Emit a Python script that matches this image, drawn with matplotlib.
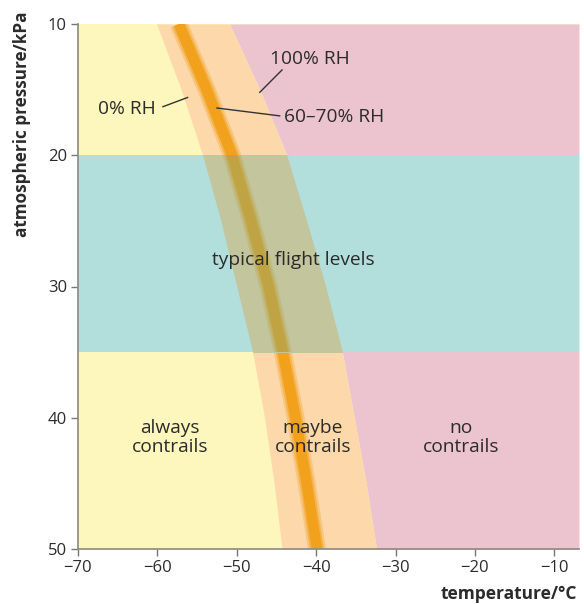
import matplotlib
matplotlib.use("Agg")
import matplotlib.pyplot as plt
import numpy as np

plt.rcParams['font.family'] = ['Open Sans', 'DejaVu Sans']

# pressure levels (kPa) and temperatures (deg C) of the three humidity curves
pressure = [10, 15, 20, 25, 30, 35, 40, 45, 50]
t_rh0 = [-60.1, -57.0, -54.3, -52.0, -50.0, -48.0, -46.5, -45.3, -44.3]
t_rh65 = [-57.3, -53.8, -50.6, -48.2, -46.0, -44.2, -42.6, -41.2, -39.9]
t_rh100 = [-50.9, -47.1, -43.7, -41.2, -38.8, -36.7, -35.2, -33.7, -32.4]

flight_levels = (20, 35)
x_ticks = [-70, -60, -50, -40, -30, -20, -10]
y_ticks = [10, 20, 30, 40, 50]

# colours
c_yellow = '#fdf6bd'
c_pink = '#ecc4cf'
c_teal = '#b2dedb'
c_band = '#fcd8ab'
c_line = '#f1a11c'
c_band_teal = '#c3c59d'
c_line_teal = '#c0a443'
c_text = '#2b2b2b'

fig = plt.figure(figsize=(5.84, 6.04), dpi=100)
ax = fig.add_axes([78 / 584, 55 / 604, 501 / 584, 525 / 604])
ax.set_facecolor(c_yellow)
xmin, xmax = -70, -6.9

# line widths for the soft-edged 60-70% RH line
widths = [(13, 0.3), (10, 0.5), (7.5, 1.0)]

# no-contrail region and humidity band
ax.fill_betweenx(pressure, t_rh100, xmax, color=c_pink, lw=0, zorder=1)
ax.fill_betweenx(pressure, t_rh0, t_rh100, color=c_band, lw=0, zorder=1)
for lw, a in widths:
    ax.plot(t_rh65, pressure, color=c_line, lw=lw, alpha=a, zorder=2,
            solid_capstyle='butt')

# flight level band (covers everything, band shows through darker)
teal = ax.axhspan(*flight_levels, color=c_teal, lw=0, zorder=3)
clipped = [ax.fill_betweenx(pressure, t_rh0, t_rh100, color=c_band_teal,
                            lw=0, zorder=4)]
for lw, a in widths:
    l, = ax.plot(t_rh65, pressure, color=c_line_teal, lw=lw, alpha=a,
                 zorder=5, solid_capstyle='butt')
    clipped.append(l)
for art in clipped:
    art.set_clip_path(teal)

ax.set_xlim(xmin, xmax)
ax.set_ylim(50, 10)
ax.set_xticks(x_ticks)
ax.set_yticks(y_ticks)
ax.tick_params(labelsize=12, length=5, width=1, color='#777777',
               labelcolor=c_text, pad=3)
for s in ('top', 'right'):
    ax.spines[s].set_visible(False)
for s in ('left', 'bottom'):
    ax.spines[s].set_color('#8a8a80')
    ax.spines[s].set_linewidth(1.2)
    ax.spines[s].set_zorder(10)

# labels on the curves
fs = 13.8
ax.text(-40.8, 12.7, '100% RH', fontsize=fs, color=c_text, ha='center',
        va='center', zorder=6)
ax.plot([-44.3, -47.1], [13.5, 15.2], color='#333333', lw=1, zorder=6)
ax.text(-63.8, 16.5, '0% RH', fontsize=fs, color=c_text, ha='center',
        va='center', zorder=6)
ax.plot([-59.3, -56.2], [16.3, 15.6], color='#333333', lw=1, zorder=6)
ax.text(-44.0, 17.1, '60–70% RH', fontsize=fs, color=c_text, ha='left',
        va='center', zorder=6)
ax.plot([-52.5, -44.6], [16.4, 17.0], color='#333333', lw=1, zorder=6)

ax.text(-42.9, 28.0, 'typical flight levels', fontsize=fs, color=c_text,
        ha='center', va='center', zorder=6)
for x, s in [(-58.4, 'always\ncontrails'), (-40.4, 'maybe\ncontrails'),
             (-21.7, 'no\ncontrails')]:
    ax.text(x, 41.5, s, fontsize=fs, color=c_text, ha='center', va='center',
            linespacing=1.1, zorder=6)

fig.text(22 / 584, 1 - 124 / 604, 'atmospheric pressure/kPa', rotation=90,
         fontsize=12.3, fontweight='bold', color=c_text, ha='center', va='center')
fig.text(577 / 584, 1 - 594 / 604, 'temperature/°C', fontsize=12.5,
         fontweight='bold', color=c_text, ha='right', va='center')

fig.savefig('out.png', dpi=100)
